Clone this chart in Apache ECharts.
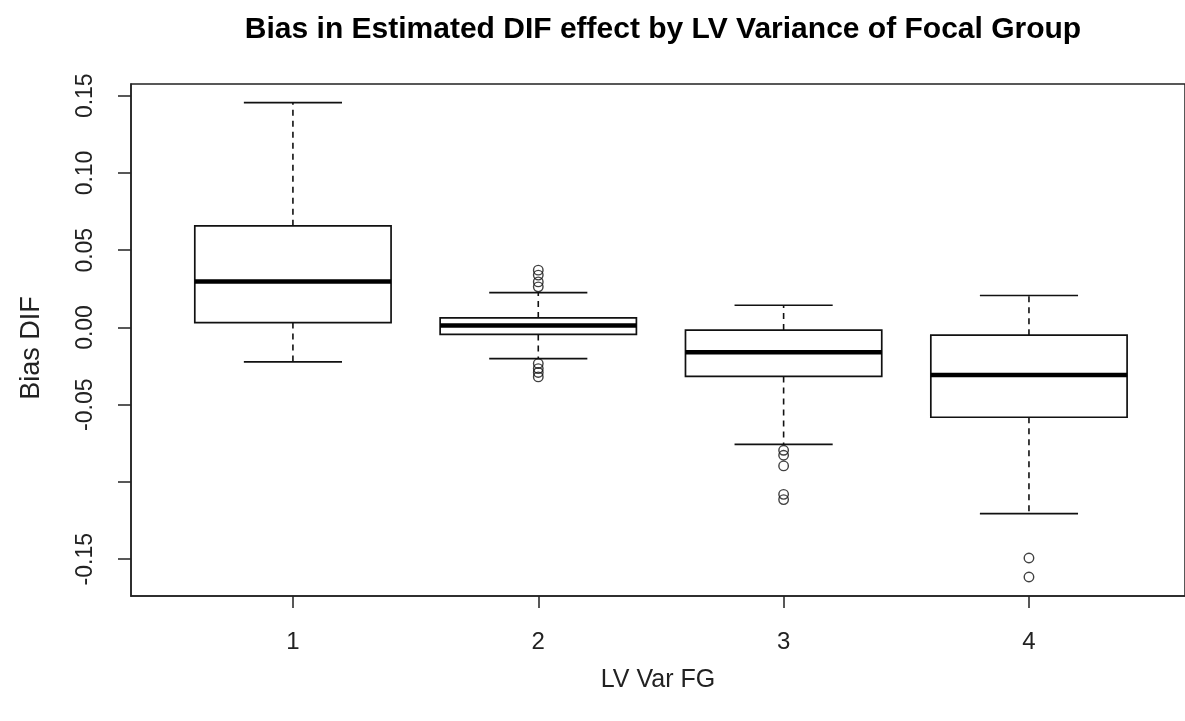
<!DOCTYPE html>
<html>
<head>
<meta charset="utf-8">
<script src="https://cdn.jsdelivr.net/npm/echarts@6/dist/echarts.min.js"></script>
<style>
html,body{margin:0;padding:0;background:#fff;}
#chart{width:1185px;height:721px;}
</style>
</head>
<body>
<div id="chart"></div>
<script>
// ---- data ----
const categories = [1, 2, 3, 4];
const whiskerLow  = [-0.0223, -0.0201, -0.0756, -0.1205];
const q1          = [ 0.0032, -0.0045, -0.0317, -0.0581];
const median      = [ 0.0298,  0.0013, -0.0160, -0.0307];
const q3          = [ 0.0658,  0.0062, -0.0017, -0.0050];
const whiskerHigh = [ 0.1455,  0.0225,  0.0144,  0.0207];
const outliers2 = [0.0371, 0.0339, 0.0295, 0.0263, -0.0233, -0.0266, -0.0291, -0.0320];
const outliers3 = [-0.0795, -0.0827, -0.0896, -0.1080, -0.1114];
const outliers4 = [-0.1492, -0.1615];
const yTicks = [-0.15, -0.10, -0.05, 0.00, 0.05, 0.10, 0.15];
const yTickLabels = [-0.15, -0.05, 0.00, 0.05, 0.10, 0.15];
const xTickLabels = ['1', '2', '3', '4'];
const titleText = 'Bias in Estimated DIF effect by LV Variance of Focal Group';
const xName = 'LV Var FG';
const yName = 'Bias DIF';

// ---- build ----
const boxData = categories.map((c, i) => [c, whiskerLow[i], q1[i], median[i], q3[i], whiskerHigh[i]]);
const outlierData = [];
outliers2.forEach(v => outlierData.push([categories[1], v]));
outliers3.forEach(v => outlierData.push([categories[2], v]));
outliers4.forEach(v => outlierData.push([categories[3], v]));

const FONT = 'Liberation Sans, Arial, sans-serif';
const chart = echarts.init(document.getElementById('chart'), null, {renderer: 'canvas'});

function renderBox(params, api) {
  const x = api.value(0);
  const lo = api.coord([x, api.value(1)]);
  const b1 = api.coord([x, api.value(2)]);
  const md = api.coord([x, api.value(3)]);
  const b3 = api.coord([x, api.value(4)]);
  const hi = api.coord([x, api.value(5)]);
  const boxW = api.size([0.8, 0])[0];
  const capW = api.size([0.4, 0])[0];
  const cx = lo[0];
  const solid = {stroke: '#111', lineWidth: 1.7, fill: null};
  const dashed = {stroke: '#111', lineWidth: 1.6, lineDash: [6, 5], fill: null};
  return {
    type: 'group',
    children: [
      {type: 'line', shape: {x1: cx, y1: b3[1], x2: cx, y2: hi[1]}, style: dashed},
      {type: 'line', shape: {x1: cx, y1: b1[1], x2: cx, y2: lo[1]}, style: dashed},
      {type: 'line', shape: {x1: cx - capW / 2, y1: hi[1], x2: cx + capW / 2, y2: hi[1]}, style: solid},
      {type: 'line', shape: {x1: cx - capW / 2, y1: lo[1], x2: cx + capW / 2, y2: lo[1]}, style: solid},
      {type: 'rect', shape: {x: cx - boxW / 2, y: b3[1], width: boxW, height: b1[1] - b3[1]},
        style: {stroke: '#111', lineWidth: 1.7, fill: '#fff'}},
      {type: 'line', shape: {x1: cx - boxW / 2, y1: md[1], x2: cx + boxW / 2, y2: md[1]},
        style: {stroke: '#000', lineWidth: 4.5}}
    ]
  };
}

chart.setOption({
  animation: false,
  backgroundColor: '#fff',
  title: {
    text: titleText,
    left: 658, textAlign: 'center',
    top: 10,
    textStyle: {fontFamily: FONT, fontWeight: 'bold', fontSize: 30, color: '#000'}
  },
  grid: {
    left: 131, right: 0, top: 84, bottom: 125,
    show: true, borderColor: '#222', borderWidth: 1.5, backgroundColor: 'transparent'
  },
  xAxis: {
    type: 'value', min: 0.34, max: 4.636,
    name: xName, nameLocation: 'middle', nameGap: 72,
    nameTextStyle: {fontFamily: FONT, fontSize: 25, color: '#222'},
    axisLine: {show: true, onZero: false, lineStyle: {color: '#222', width: 1.5}},
    axisTick: {show: true, length: 12, customValues: categories, lineStyle: {color: '#222', width: 1.5}},
    axisLabel: {
      customValues: categories, margin: 34,
      fontFamily: FONT, fontSize: 24, color: '#222',
      formatter: v => xTickLabels[categories.indexOf(Math.round(v))] || ''
    },
    splitLine: {show: false}
  },
  yAxis: {
    type: 'value', min: -0.1738, max: 0.1576,
    name: yName, nameLocation: 'middle', nameGap: 86, nameRotate: 90,
    nameTextStyle: {fontFamily: FONT, fontSize: 27, color: '#222', padding: [0, 16, 0, 0]},
    axisLine: {show: true, onZero: false, lineStyle: {color: '#222', width: 1.5}},
    axisTick: {show: true, length: 13, customValues: yTicks, lineStyle: {color: '#222', width: 1.5}},
    axisLabel: {
      customValues: yTickLabels, rotate: 90, margin: 34,
      fontFamily: FONT, fontSize: 23, color: '#222',
      formatter: v => v.toFixed(2)
    },
    splitLine: {show: false}
  },
  series: [
    {type: 'custom', renderItem: renderBox, data: boxData, encode: {x: 0, y: [1, 2, 3, 4, 5]}, z: 2},
    {type: 'scatter', data: outlierData, symbol: 'circle', symbolSize: 9.5,
      itemStyle: {color: 'rgba(255,255,255,0)', borderColor: '#111', borderWidth: 1.4}, z: 3}
  ]
});
</script>
</body>
</html>
